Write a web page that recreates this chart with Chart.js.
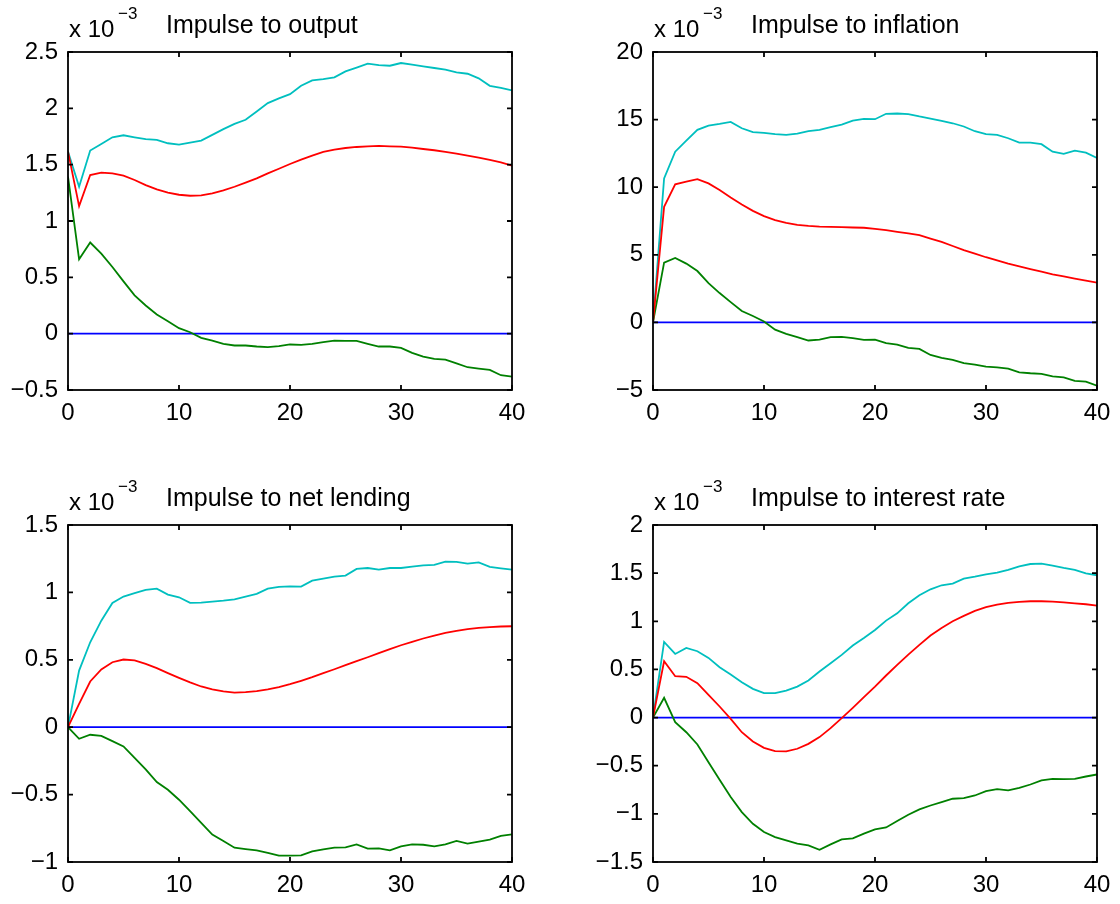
<!DOCTYPE html>
<html>
<head>
<meta charset="utf-8">
<title>Impulse responses</title>
<script src="https://cdn.jsdelivr.net/npm/chart.js@4.4.1/dist/chart.umd.min.js"></script>
<style>
    body    { margin: 0 ; background: #ffffff ; }
    #figure { position: relative ; width: 1120px ; height: 904px ; background: #ffffff ; }
    .panel  { position: absolute ; width: 560px ; height: 452px ; }
</style>
</head>
<body>
<div id="figure">
    <div class="panel" style="left:0px;   top:0px;"  ><canvas id="outputCanvas"   width="560" height="452"></canvas></div>
    <div class="panel" style="left:560px; top:0px;"  ><canvas id="inflationCanvas" width="560" height="452"></canvas></div>
    <div class="panel" style="left:0px;   top:452px;"><canvas id="lendingCanvas"  width="560" height="452"></canvas></div>
    <div class="panel" style="left:560px; top:452px;"><canvas id="interestCanvas" width="560" height="452"></canvas></div>
</div>
<script>

// ---------------- Data (all responses in units of 10^-3) ---------------------
var horizon = [  0,  1,  2,  3,  4,  5,  6,  7,  8,  9,
                10, 11, 12, 13, 14, 15, 16, 17, 18, 19,
                20, 21, 22, 23, 24, 25, 26, 27, 28, 29,
                30, 31, 32, 33, 34, 35, 36, 37, 38, 39, 40 ] ;

var xTicks = [ 0, 10, 20, 30, 40 ] ;

// --- output
var outputUpper = [ 1.616, 1.304, 1.625, 1.684, 1.743, 1.761, 1.743, 1.726, 1.720, 1.690,
                    1.678, 1.696, 1.714, 1.764, 1.815, 1.862, 1.898, 1.972, 2.046, 2.088,
                    2.126, 2.200, 2.248, 2.260, 2.275, 2.328, 2.361, 2.396, 2.384, 2.378,
                    2.402, 2.387, 2.372, 2.358, 2.343, 2.319, 2.307, 2.266, 2.200, 2.182, 2.159 ] ;
var outputMean  = [ 1.616, 1.132, 1.408, 1.429, 1.423, 1.402, 1.364, 1.319, 1.280, 1.251,
                    1.233, 1.224, 1.227, 1.245, 1.271, 1.304, 1.340, 1.378, 1.423, 1.464,
                    1.506, 1.545, 1.580, 1.613, 1.634, 1.648, 1.657, 1.663, 1.666, 1.663,
                    1.660, 1.651, 1.639, 1.628, 1.613, 1.598, 1.580, 1.562, 1.542, 1.521, 1.491 ] ;
var outputLower = [ 1.393, 0.660, 0.809, 0.711, 0.592, 0.464, 0.340, 0.250, 0.170, 0.111,
                    0.049, 0.013, -0.037, -0.061, -0.090, -0.105, -0.105, -0.114, -0.120, -0.111,
                    -0.096, -0.099, -0.090, -0.076, -0.061, -0.064, -0.064, -0.090, -0.114, -0.114,
                    -0.126, -0.171, -0.203, -0.224, -0.230, -0.263, -0.298, -0.310, -0.322, -0.369, -0.381 ] ;

// --- inflation
var inflationUpper = [ 0.00, 10.65, 12.63, 13.45, 14.24, 14.56, 14.68, 14.83, 14.36, 14.07,
                       14.02, 13.92, 13.87, 13.97, 14.14, 14.24, 14.44, 14.63, 14.93, 15.05,
                       15.03, 15.43, 15.45, 15.40, 15.23, 15.08, 14.91, 14.73, 14.49, 14.14,
                       13.92, 13.87, 13.62, 13.30, 13.30, 13.18, 12.63, 12.46, 12.71, 12.56, 12.16 ] ;
var inflationMean  = [ 0.00, 8.55, 10.21, 10.41, 10.60, 10.28, 9.79, 9.24, 8.72, 8.25,
                       7.86, 7.56, 7.36, 7.22, 7.14, 7.09, 7.07, 7.04, 7.02, 7.00,
                       6.92, 6.82, 6.70, 6.58, 6.45, 6.20, 5.95, 5.65, 5.34, 5.08,
                       4.82, 4.58, 4.35, 4.14, 3.94, 3.75, 3.56, 3.40, 3.24, 3.09, 2.94 ] ;
var inflationLower = [ 0.00, 4.42, 4.77, 4.35, 3.80, 2.91, 2.17, 1.50, 0.84, 0.47,
                       0.07, -0.54, -0.85, -1.09, -1.34, -1.27, -1.09, -1.07, -1.17, -1.29,
                       -1.27, -1.54, -1.64, -1.88, -1.96, -2.41, -2.63, -2.78, -3.02, -3.12,
                       -3.27, -3.32, -3.42, -3.69, -3.76, -3.81, -3.99, -4.06, -4.33, -4.38, -4.68 ] ;

// --- net lending
var lendingUpper = [ 0.000, 0.420, 0.630, 0.790, 0.922, 0.969, 0.994, 1.018, 1.028, 0.984,
                     0.964, 0.922, 0.924, 0.932, 0.939, 0.949, 0.969, 0.989, 1.028, 1.041,
                     1.045, 1.043, 1.087, 1.102, 1.117, 1.125, 1.174, 1.181, 1.169, 1.181,
                     1.181, 1.191, 1.201, 1.204, 1.228, 1.226, 1.213, 1.223, 1.189, 1.179, 1.169 ] ;
var lendingMean  = [ 0.000, 0.173, 0.339, 0.428, 0.482, 0.502, 0.495, 0.470, 0.438, 0.401,
                     0.366, 0.332, 0.302, 0.280, 0.265, 0.257, 0.260, 0.267, 0.280, 0.297,
                     0.319, 0.344, 0.371, 0.401, 0.430, 0.460, 0.490, 0.519, 0.549, 0.579,
                     0.608, 0.633, 0.658, 0.680, 0.700, 0.714, 0.727, 0.737, 0.742, 0.747, 0.749 ] ;
var lendingLower = [ 0.000, -0.086, -0.056, -0.064, -0.103, -0.143, -0.227, -0.313, -0.407, -0.464,
                     -0.538, -0.622, -0.709, -0.797, -0.844, -0.894, -0.904, -0.914, -0.933, -0.953,
                     -0.953, -0.951, -0.921, -0.906, -0.894, -0.891, -0.869, -0.901, -0.899, -0.914,
                     -0.884, -0.869, -0.872, -0.884, -0.869, -0.844, -0.864, -0.849, -0.834, -0.807, -0.795 ] ;

// --- interest rate
var interestUpper = [ 0.000, 0.786, 0.661, 0.724, 0.689, 0.620, 0.523, 0.447, 0.367, 0.298,
                      0.253, 0.253, 0.281, 0.322, 0.385, 0.478, 0.565, 0.651, 0.748, 0.827,
                      0.910, 1.007, 1.083, 1.187, 1.270, 1.332, 1.374, 1.391, 1.443, 1.464,
                      1.488, 1.505, 1.533, 1.571, 1.595, 1.599, 1.578, 1.554, 1.533, 1.498, 1.478 ] ;
var interestMean  = [ 0.000, 0.585, 0.430, 0.423, 0.357, 0.236, 0.115, -0.013, -0.152, -0.248,
                      -0.314, -0.349, -0.352, -0.324, -0.273, -0.203, -0.110, -0.006, 0.101, 0.212,
                      0.322, 0.437, 0.547, 0.654, 0.755, 0.852, 0.931, 1.000, 1.056, 1.108,
                      1.146, 1.173, 1.191, 1.201, 1.208, 1.208, 1.204, 1.197, 1.187, 1.177, 1.163 ] ;
var interestLower = [ 0.000, 0.205, -0.048, -0.152, -0.279, -0.463, -0.646, -0.826, -0.982, -1.103,
                      -1.189, -1.241, -1.276, -1.310, -1.328, -1.373, -1.317, -1.265, -1.255, -1.206,
                      -1.162, -1.141, -1.075, -1.009, -0.954, -0.913, -0.878, -0.843, -0.836, -0.809,
                      -0.764, -0.743, -0.757, -0.729, -0.695, -0.653, -0.636, -0.639, -0.636, -0.612, -0.591 ] ;

// ---------------- Panel setup ------------------------------------------------
var FONT = '"Liberation Sans", Arial, Helvetica, sans-serif' ;

var panels = [
    { canvasId : 'outputCanvas',    title : 'Impulse to output',
      yMin : -0.5, yMax : 2.5, yStep : 0.5,
      upper : outputUpper, mean : outputMean, lower : outputLower,
      padTop : 52, padRight : 48, yWidth : 68, xHeight : 62 },
    { canvasId : 'inflationCanvas', title : 'Impulse to inflation',
      yMin : -5, yMax : 20, yStep : 5,
      upper : inflationUpper, mean : inflationMean, lower : inflationLower,
      padTop : 52, padRight : 23, yWidth : 93, xHeight : 62 },
    { canvasId : 'lendingCanvas',   title : 'Impulse to net lending',
      yMin : -1, yMax : 1.5, yStep : 0.5,
      upper : lendingUpper, mean : lendingMean, lower : lendingLower,
      padTop : 73, padRight : 48, yWidth : 68, xHeight : 42 },
    { canvasId : 'interestCanvas',  title : 'Impulse to interest rate',
      yMin : -1.5, yMax : 2, yStep : 0.5,
      upper : interestUpper, mean : interestMean, lower : interestLower,
      padTop : 73, padRight : 23, yWidth : 93, xHeight : 42 }
] ;

// ---------------- Helpers ----------------------------------------------------
function toPoints( values ) {
    var pts = [] ;
    for( var i=0; i<horizon.length; i++ ) {
        pts.push( { x : horizon[i], y : values[i] } ) ;
    }
    return pts ;
}

function formatTick( value ) {
    var v = Math.round( value * 1000 ) / 1000 ;
    var s = '' + Math.abs( v ) ;
    return ( v < 0 ? '\u2212' : '' ) + s ;
}

function lineDataset( name, values, color ) {
    return {
        name         : name,
        data         : toPoints( values ),
        borderColor  : color,
        borderWidth  : 1.8,
        tension      : 0,
        pointRadius  : 0,
        fill         : false
    } ;
}

// Box round the plot area with inward ticks on all four sides
var boxPlugin = {
    id : 'matlabBox',
    afterDraw : function( chart ) {
        var ctx  = chart.ctx ;
        var area = chart.chartArea ;
        var xs   = chart.scales.x ;
        var ys   = chart.scales.y ;
        var len  = 5 ;

        ctx.save() ;
        ctx.strokeStyle = '#000000' ;
        ctx.lineWidth = 1.8 ;
        ctx.strokeRect( area.left, area.top, area.right - area.left, area.bottom - area.top ) ;

        ctx.beginPath() ;
        xs.ticks.forEach( function( t ) {
            var px = xs.getPixelForValue( t.value ) ;
            ctx.moveTo( px, area.bottom ) ; ctx.lineTo( px, area.bottom - len ) ;
            ctx.moveTo( px, area.top ) ;    ctx.lineTo( px, area.top + len ) ;
        } ) ;
        ys.ticks.forEach( function( t ) {
            var py = ys.getPixelForValue( t.value ) ;
            ctx.moveTo( area.left, py ) ;  ctx.lineTo( area.left + len, py ) ;
            ctx.moveTo( area.right, py ) ; ctx.lineTo( area.right - len, py ) ;
        } ) ;
        ctx.stroke() ;
        ctx.restore() ;
    }
} ;

// Title and the "x 10^-3" multiplier above the plot area
var labelPlugin = {
    id : 'panelLabels',
    afterDraw : function( chart ) {
        var ctx   = chart.ctx ;
        var area  = chart.chartArea ;
        var title = chart.options.plugins.panelLabels.text ;

        ctx.save() ;
        ctx.fillStyle = '#000000' ;
        ctx.textAlign = 'left' ;
        ctx.textBaseline = 'alphabetic' ;

        ctx.font = '24px ' + FONT ;
        ctx.fillText( 'x 10', area.left + 1, area.top - 15 ) ;
        ctx.font = '17px ' + FONT ;
        ctx.fillText( '\u22123', area.left + 50, area.top - 33 ) ;

        ctx.font = '25px ' + FONT ;
        ctx.fillText( title, area.left + 98, area.top - 19 ) ;
        ctx.restore() ;
    }
} ;

// ---------------- Chart creation ---------------------------------------------
function getScaleOptions( panel ) {
    return {
        x : {
            type : 'linear',
            min  : 0,
            max  : 40,
            afterBuildTicks : function( scale ) {
                scale.ticks = xTicks.map( function( v ) { return { value : v } ; } ) ;
            },
            afterFit : function( scale ) { scale.height = panel.xHeight ; },
            grid   : { display : false, drawTicks : false },
            border : { display : false },
            ticks  : {
                padding : 9,
                color   : '#000000',
                font    : { family : FONT, size : 24 },
                maxRotation : 0,
                callback : function( value ) { return formatTick( value ) ; }
            }
        },
        y : {
            type : 'linear',
            min  : panel.yMin,
            max  : panel.yMax,
            afterFit : function( scale ) { scale.width = panel.yWidth ; },
            grid   : { display : false, drawTicks : false },
            border : { display : false },
            ticks  : {
                stepSize : panel.yStep,
                padding  : 10,
                color    : '#000000',
                font     : { family : FONT, size : 24 },
                callback : function( value ) { return formatTick( value ) ; }
            }
        }
    } ;
}

function drawPanel( panel ) {
    var zero = panel.mean.map( function() { return 0 ; } ) ;

    var datasets = [
        lineDataset( 'mean',  panel.mean,  '#ff0000' ),
        lineDataset( 'lower', panel.lower, '#008000' ),
        lineDataset( 'upper', panel.upper, '#00bfbf' ),
        lineDataset( 'zero',  zero,        '#0000ff' )
    ] ;

    new Chart( document.getElementById( panel.canvasId ), {
        type : 'line',
        data : { datasets : datasets },
        options : {
            responsive : false,
            animation  : false,
            layout : {
                padding : { top : panel.padTop, right : panel.padRight, left : 0, bottom : 0 }
            },
            plugins : {
                legend  : { display : false },
                tooltip : { enabled : false },
                panelLabels : { text : panel.title }
            },
            scales : getScaleOptions( panel )
        },
        plugins : [ boxPlugin, labelPlugin ]
    } ) ;
}

panels.forEach( drawPanel ) ;

</script>
</body>
</html>
